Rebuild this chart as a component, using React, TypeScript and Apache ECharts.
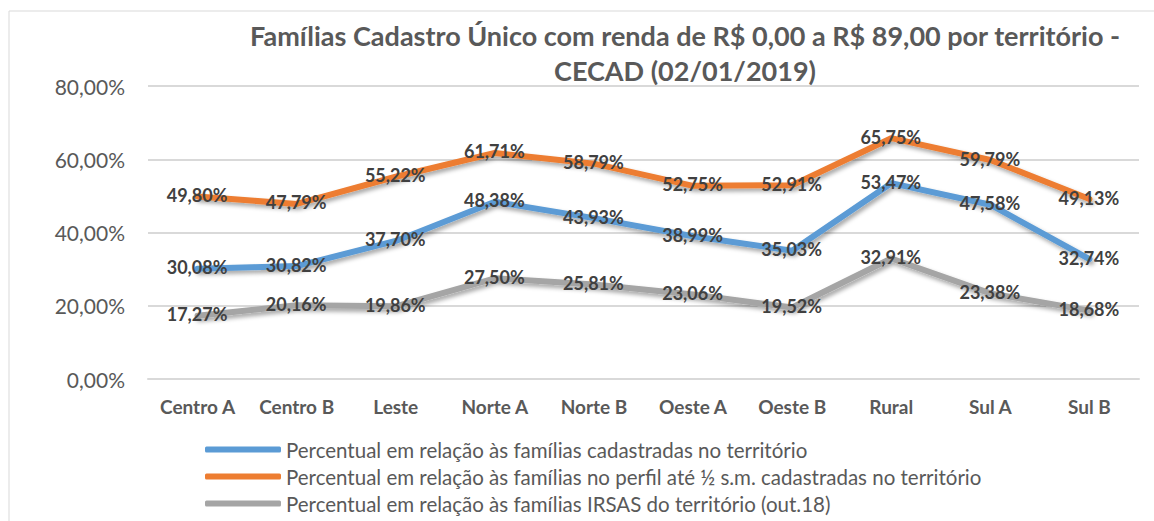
import React, { useEffect, useRef } from "react";
import * as echarts from "echarts";

const categories = ["Centro A", "Centro B", "Leste", "Norte A", "Norte B", "Oeste A", "Oeste B", "Rural", "Sul A", "Sul B"];
const cadastradas = [30.08, 30.82, 37.7, 48.38, 43.93, 38.99, 35.03, 53.47, 47.58, 32.74];
const perfilMeioSM = [49.8, 47.79, 55.22, 61.71, 58.79, 52.75, 52.91, 65.75, 59.79, 49.13];
const irsas = [17.27, 20.16, 19.86, 27.5, 25.81, 23.06, 19.52, 32.91, 23.38, 18.68];
const seriesNames = [
  "Percentual em relação às famílias cadastradas no território",
  "Percentual em relação às famílias no perfil até ½ s.m. cadastradas no território",
  "Percentual em relação às famílias IRSAS do território (out.18)",
];
const colors = ["#5B9BD5", "#ED7D31", "#A5A5A5"];
const titleText = "Famílias Cadastro Único com renda de R$ 0,00 a R$ 89,00 por território -\nCECAD (02/01/2019)";

const FONT = "Lato, 'Open Sans', sans-serif";
const fmt = (v: number) => v.toFixed(2).replace(".", ",") + "%";

export default function App() {
  const ref = useRef<HTMLDivElement>(null);
  useEffect(() => {
    if (!ref.current) return;
    const chart = echarts.init(ref.current, undefined, { renderer: "svg" });
    const datasets = [cadastradas, perfilMeioSM, irsas];
    chart.setOption({
      animation: false,
      backgroundColor: "#ffffff",
      title: {
        text: titleText,
        left: 680,
        top: 13,
        textAlign: "center",
        textStyle: { fontFamily: FONT, fontWeight: "bold", fontSize: 27, color: "#595959", lineHeight: 35 },
      },
      graphic: [
        { type: "line", shape: { x1: 9, y1: 11, x2: 1154, y2: 11 }, style: { stroke: "#d9d9d9", lineWidth: 1 } },
        { type: "line", shape: { x1: 9, y1: 11, x2: 9, y2: 521 }, style: { stroke: "#d9d9d9", lineWidth: 1 } },
      ],
      legend: {
        orient: "vertical",
        left: 200,
        top: 434,
        itemGap: 6,
        itemWidth: 76,
        itemHeight: 6,
        icon: "roundRect",
        textStyle: { fontFamily: FONT, fontSize: 20.5, color: "#595959", lineHeight: 19 },
        data: seriesNames,
      },
      grid: { left: 148, right: 15, top: 86, bottom: 142, containLabel: false },
      xAxis: {
        type: "category",
        data: categories,
        boundaryGap: true,
        axisLine: { show: true, lineStyle: { color: "#d9d9d9", width: 2 } },
        axisTick: { show: false },
        axisLabel: { fontFamily: FONT, fontWeight: "bold", fontSize: 19, color: "#595959", margin: 18 },
      },
      yAxis: {
        type: "value",
        min: 0,
        max: 80,
        interval: 20,
        axisLine: { show: false },
        axisTick: { show: false },
        splitLine: { lineStyle: { color: "#d9d9d9", width: 2 } },
        axisLabel: { fontFamily: FONT, fontSize: 21, color: "#595959", margin: 23, formatter: (v: number) => fmt(v) },
      },
      series: datasets.map((d, i) => ({
        name: seriesNames[i],
        type: "line",
        data: d,
        symbol: "circle",
        symbolSize: 1,
        showSymbol: true,
        color: colors[i],
        z: 3 - i,
        lineStyle: {
          width: 6,
          color: colors[i],
          cap: "round",
          join: "round",
          shadowColor: "rgba(0,0,0,0.35)",
          shadowBlur: 4,
          shadowOffsetX: 2,
          shadowOffsetY: 3,
        },
        label: {
          show: true,
          position: [0, -1],
          align: "center",
          verticalAlign: "middle",
          formatter: (p: any) => fmt(p.value),
          fontFamily: FONT,
          fontWeight: "bold",
          fontSize: 18,
          color: "#404040",
        },
        labelLayout: { hideOverlap: false },
      })),
    });
    return () => chart.dispose();
  }, []);
  return <div ref={ref} style={{ width: 1154, height: 521, position: "absolute", left: 0, top: 0 }} />;
}
